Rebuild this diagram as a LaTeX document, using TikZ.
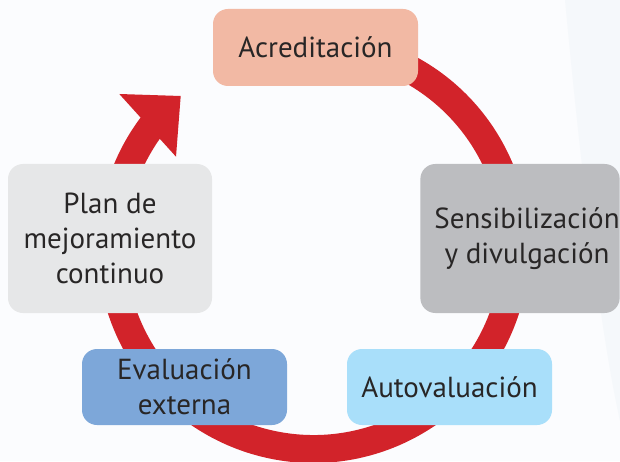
\documentclass[tikz,border=0pt]{standalone}
\usepackage{fontspec}
\setmainfont{PT Sans}
\definecolor{ringred}{RGB}{210,35,42}
\definecolor{acrc}{RGB}{242,185,164}
\definecolor{sensc}{RGB}{188,189,192}
\definecolor{autoc}{RGB}{169,223,250}
\definecolor{evalc}{RGB}{125,167,217}
\definecolor{planc}{RGB}{230,231,232}
\definecolor{txt}{RGB}{40,38,38}
\definecolor{bgA}{RGB}{251,252,254}
\definecolor{bgB}{RGB}{245,248,251}
\begin{document}
\begin{tikzpicture}[x=1pt,y=1pt,
  box/.style={rounded corners=15pt, inner sep=0pt, align=center, text=txt,
    font=\fontsize{29}{35}\selectfont},
  ring/.style={line width=28pt, draw=ringred, line cap=butt}]
\useasboundingbox (0,0) rectangle (620,461);
\fill[bgA] (0,0) rectangle (620,461);
\fill[bgB] (565,461) .. controls (580,300) and (600,130) .. (620,40) -- (620,461) -- cycle;
% ring
\coordinate (C) at (313.5,214);
\draw[ring] ([shift={(75:202)}]C) arc[start angle=75, end angle=-218, radius=202];
% arrowhead
\coordinate (hA) at (119.3,367);
\coordinate (hB) at (180.7,365);
\coordinate (hC) at (176,304.3);
\fill[ringred] (hA) -- (hB) -- (hC) -- cycle;
% boxes
\node[box, fill=acrc, minimum width=205pt, minimum height=77pt] (acr) at (315.5,413.5) {Acreditación};
\node[box, fill=sensc, minimum width=198pt, minimum height=149pt] (sens) at (520,222.5)
  {\hspace*{14pt}Sensibilización\\\hspace*{14pt}y divulgación};
\node[box, fill=autoc, minimum width=205pt, minimum height=76pt] (auto) at (449.5,74) {Autovaluación};
\node[box, fill=evalc, minimum width=205pt, minimum height=76pt] (eval) at (184.5,74) {Evaluación\\externa};
\node[box, fill=planc, minimum width=204pt, minimum height=149pt] (plan) at (110,222.5)
  {Plan de\\mejoramiento\\continuo};
\end{tikzpicture}
\end{document}
